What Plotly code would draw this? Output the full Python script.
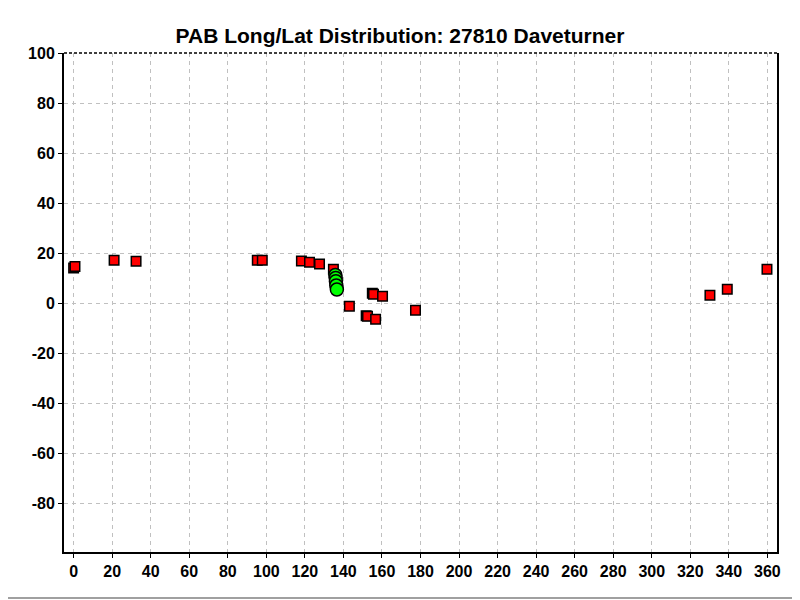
import plotly.graph_objects as go

# Red squares (PAB positions)
sq_lon = [0.0, 0.7, 21.0, 32.4, 95.3, 97.9, 118.2, 122.4, 127.6, 134.8,
          143.1, 155.0, 155.6, 160.3, 151.8, 152.5, 156.7, 177.4,
          330.2, 339.2, 359.8]
sq_lat = [14.0, 14.6, 17.1, 16.7, 17.1, 17.1, 16.8, 16.3, 15.6, 13.5,
          -1.3, 3.9, 3.5, 2.7, -5.1, -5.3, -6.5, -2.9,
          3.1, 5.5, 13.5]

# Green circles
gc_lon = [135.8, 136.0, 136.1, 136.3, 136.6]
gc_lat = [11.2, 10.0, 8.7, 7.0, 5.4]

x_ticks = list(range(0, 361, 20))
y_ticks = list(range(-80, 101, 20))

# page body has an 8px margin; figure coords are offset by 8px
OFF = 8
W, H = 800 - OFF, 600 - OFF
L, T, R, B = 64 - OFF, 53 - OFF, 777 - OFF, 552 - OFF
PW, PH = R - L, B - T

fig = go.Figure()
fig.add_trace(go.Scatter(
    x=sq_lon, y=sq_lat, mode="markers",
    marker=dict(symbol="square", size=9.5, color="#ff0000",
                line=dict(color="black", width=1.5)),
    showlegend=False, hoverinfo="x+y"))
fig.add_trace(go.Scatter(
    x=gc_lon, y=gc_lat, mode="markers",
    marker=dict(symbol="circle", size=13, color="#00ff00",
                line=dict(color="black", width=1.5)),
    showlegend=False, hoverinfo="x+y"))

axis_font = dict(family="Liberation Sans, Arial, sans-serif", size=16, color="black")

fig.update_layout(
    width=W, height=H,
    paper_bgcolor="white", plot_bgcolor="white",
    margin=dict(l=L, r=W - R, t=T, b=H - B),
    title=dict(text="<b>PAB Long/Lat Distribution: 27810 Daveturner</b>",
               x=(400 - OFF) / W, xanchor="center", y=1 - (36 - OFF) / H, yanchor="middle",
               font=dict(family="Liberation Sans, Arial, sans-serif", size=21, color="black")),
    xaxis=dict(range=[-5, 365], tickvals=x_ticks, ticktext=[f"<b>{v}</b>" for v in x_ticks],
               showgrid=True, gridcolor="#c0c0c0", griddash="4px,4px", gridwidth=1,
               showline=True, linecolor="black", linewidth=2, mirror=False,
               ticks="outside", ticklen=4, tickcolor="black", tickwidth=1,
               tickfont=axis_font, zeroline=False, automargin=False),
    yaxis=dict(range=[-99.6, 100], tickvals=y_ticks, ticktext=[f"<b>{v}</b>" for v in y_ticks],
               showgrid=True, gridcolor="#c0c0c0", griddash="4px,4px", gridwidth=1,
               showline=True, linecolor="black", linewidth=2, mirror=True,
               ticks="outside", ticklen=4, tickcolor="black", tickwidth=1,
               tickfont=axis_font, zeroline=False, automargin=False),
    shapes=[
        dict(type="line", xref="paper", yref="paper", x0=0, x1=1, y0=1, y1=1,
             line=dict(color="black", width=1.5, dash="3px,2px")),
        dict(type="line", xref="paper", yref="paper",
             x0=(798 - OFF - L) / PW, x1=(798 - OFF - L) / PW,
             y0=(B - (600 - OFF)) / PH, y1=1 + T / PH, line=dict(color="#a0a0a0", width=2)),
        dict(type="line", xref="paper", yref="paper",
             x0=-L / PW, x1=(799 - OFF - L) / PW,
             y0=(B - (598 - OFF)) / PH, y1=(B - (598 - OFF)) / PH,
             line=dict(color="#a0a0a0", width=2)),
    ],
)

fig.write_html("out.html")
